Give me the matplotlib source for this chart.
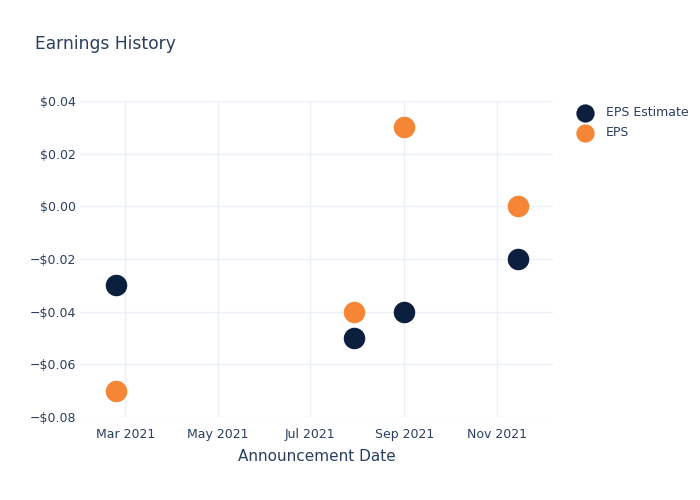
import matplotlib
matplotlib.use('Agg')
import matplotlib.pyplot as plt
import matplotlib.dates as mdates
import matplotlib.ticker as mticker
import numpy as np

NAVY = '#0c1f3f'
ORANGE = '#f68536'
TEXT = '#2a3f5f'
GRID = '#ebf0f8'

dates = np.array(['2021-02-23', '2021-07-30', '2021-09-01', '2021-11-15'], dtype='datetime64[D]')
eps_estimate = [-0.03, -0.05, -0.04, -0.02]
eps_actual = [-0.07, -0.04, 0.03, 0.00]

plt.rcParams['font.family'] = 'DejaVu Sans'

fig = plt.figure(figsize=(7, 5), dpi=100)
ax = fig.add_axes([80/700, 83/500, 473/700, 316/500])

ax.scatter(dates, eps_estimate, s=240, color=NAVY, label='EPS Estimate', zorder=3, linewidths=0)
ax.scatter(dates, eps_actual, s=240, color=ORANGE, label='EPS', zorder=3, linewidths=0)

ax.set_xlim(np.datetime64('2021-01-30'), np.datetime64('2021-12-08'))
ax.set_ylim(-0.08, 0.04)
ax.yaxis.set_major_locator(mticker.MultipleLocator(0.02))
ax.yaxis.set_major_formatter(mticker.FuncFormatter(
    lambda v, p: f'${v:.2f}' if v >= -1e-9 else f'\u2212${abs(v):.2f}'))
ax.xaxis.set_major_locator(mdates.MonthLocator(bymonth=[3, 5, 7, 9, 11]))
ax.xaxis.set_major_formatter(mdates.DateFormatter('%b %Y'))

ax.grid(True, color=GRID, linewidth=1)
ax.set_axisbelow(True)
for s in ax.spines.values():
    s.set_visible(False)
ax.tick_params(length=0, labelsize=9, colors=TEXT)
ax.tick_params(axis='y', pad=3)
ax.tick_params(axis='x', pad=8)

ax.set_xlabel('Announcement Date', fontsize=11, color=TEXT, labelpad=6)
fig.text(35/700, 1 - 44/500, 'Earnings History', fontsize=12.3, color=TEXT, va='center')

leg = ax.legend(loc='upper left', bbox_to_anchor=(1.017, 1.02), frameon=False,
                fontsize=9, labelcolor=TEXT, handletextpad=0.7, labelspacing=0.55,
                markerscale=0.85)

fig.savefig('out.png', dpi=100)
